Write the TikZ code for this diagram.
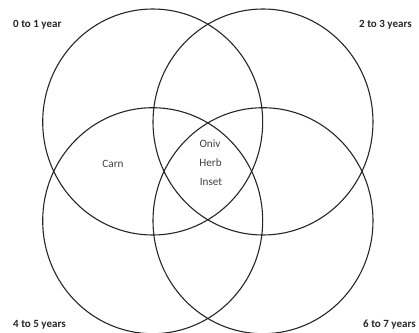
\documentclass[tikz,border=0pt]{standalone}
\usepackage{fontspec}
\setmainfont{Carlito}
\usetikzlibrary{shapes.geometric}
\begin{document}
\begin{tikzpicture}[x=1bp,y=-1bp,
  setring/.style={draw=black!85, line width=1.1bp, ellipse, inner sep=0pt,
    minimum width=220bp, minimum height=226bp},
  agelabel/.style={font=\fontsize{11bp}{13bp}\selectfont\bfseries, text=black!85, inner sep=0pt},
  dietlabel/.style={font=\fontsize{11.2bp}{13bp}\selectfont, text=black!75, inner sep=0pt}]
\useasboundingbox (0,0) rectangle (419,333);
\node[setring] (c01) at (152.7,122) {};
\node[setring] (c23) at (263,122) {};
\node[setring] (c45) at (152.7,220.7) {};
\node[setring] (c67) at (263,220.7) {};
\node[agelabel, anchor=west] (l01) at (13,25) {0 to 1 year};
\node[agelabel, anchor=west] (l23) at (359,25) {2 to 3 years};
\node[agelabel, anchor=west] (l45) at (13,325) {4 to 5 years};
\node[agelabel, anchor=west] (l67) at (363,325) {6 to 7 years};
\node[dietlabel] (carn) at (113,164) {Carn};
\node[dietlabel] (oniv) at (210,144) {Oniv};
\node[dietlabel] (herb) at (210.5,163) {Herb};
\node[dietlabel] (inset) at (211,182) {Inset};
\end{tikzpicture}
\end{document}
